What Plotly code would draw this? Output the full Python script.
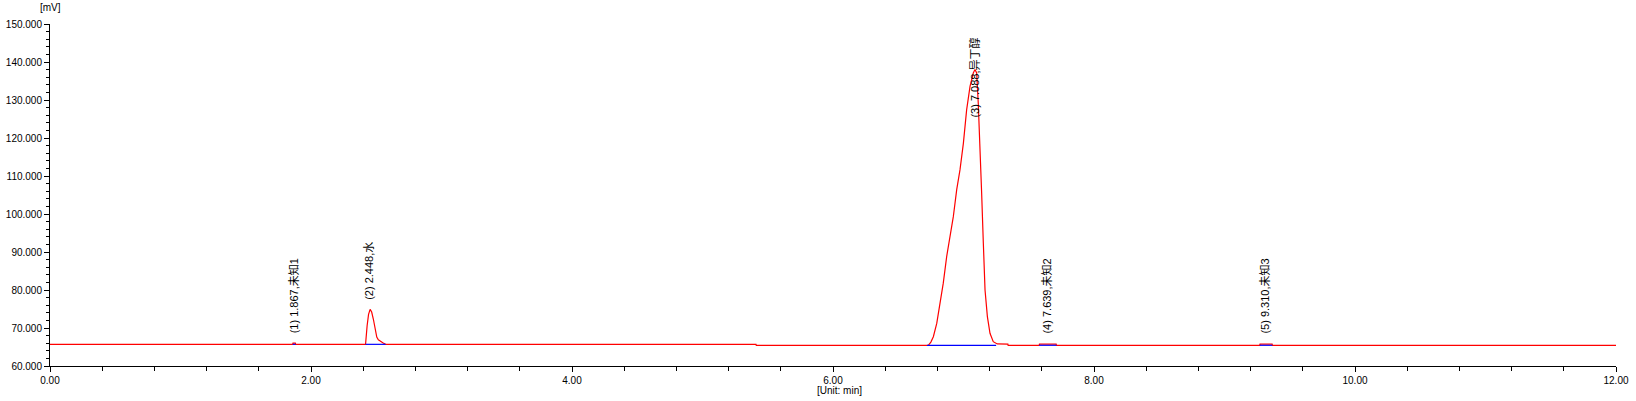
import plotly.graph_objects as go

# ---- data ----
time_min = [0.00, 1.860, 1.862, 1.880, 1.882,
            2.418, 2.430, 2.441, 2.453, 2.465, 2.478, 2.491, 2.504, 2.516, 2.529, 2.550, 2.572,
            5.410, 5.412,
            6.730, 6.750, 6.769, 6.795, 6.820, 6.845, 6.871, 6.897, 6.922, 6.948, 6.973, 6.999,
            7.024, 7.050, 7.075, 7.088, 7.101, 7.113, 7.126, 7.139, 7.152, 7.165, 7.183, 7.203,
            7.228, 7.259, 7.340, 7.342,
            7.580, 7.582, 7.710, 7.712,
            9.270, 9.272, 9.365, 9.367,
            12.00]
signal_mv = [65.7, 65.7, 66.0, 66.0, 65.7,
             65.7, 70.6, 73.6, 74.9, 74.2, 72.3, 69.5, 67.6, 66.9, 66.5, 66.1, 65.7,
             65.7, 65.45,
             65.45, 66.3, 67.7, 71.2, 76.5, 81.8, 88.8, 94.1, 99.3, 106.4, 111.6, 118.6,
             127.4, 133.6, 137.1, 138.0, 137.1, 129.2, 118.6, 105.5, 92.3, 80.0, 73.0, 68.6,
             66.4, 65.8, 65.75, 65.45,
             65.45, 65.75, 65.75, 65.45,
             65.45, 65.75, 65.75, 65.45,
             65.45]

peak_labels = ["(1) 1.867,未知1", "(2) 2.448,水", "(3) 7.088,异丁醇",
               "(4) 7.639,未知2", "(5) 9.310,未知3"]
peak_times = [1.867, 2.448, 7.088, 7.639, 9.310]
peak_heights = [66.0, 74.9, 138.0, 65.75, 65.75]
baseline_start = [1.860, 2.418, 6.720, 7.580, 9.270]
baseline_end = [1.882, 2.572, 7.250, 7.712, 9.367]
baseline_level = [65.7, 65.7, 65.45, 65.45, 65.45]

x_ticks = [0, 2, 4, 6, 8, 10, 12]
y_ticks = [60, 70, 80, 90, 100, 110, 120, 130, 140, 150]

# ---- figure ----
FONT = "Liberation Sans, Arial, Noto Sans CJK SC, sans-serif"

fig = go.Figure()
fig.add_trace(go.Scatter(x=time_min, y=signal_mv, mode="lines",
                         line=dict(color="#FF0000", width=1.2),
                         hoverinfo="skip", showlegend=False))

bx, by = [], []
for s, e, lv in zip(baseline_start, baseline_end, baseline_level):
    bx += [s, e, None]
    by += [lv, lv, None]
fig.add_trace(go.Scatter(x=bx, y=by, mode="lines",
                         line=dict(color="#0000FF", width=1.2),
                         hoverinfo="skip", showlegend=False))

label_shift = [8, 8, -50, 9, 9]
for txt, t, h, sh in zip(peak_labels, peak_times, peak_heights, label_shift):
    fig.add_annotation(x=t, y=h, xref="x", yref="y", text=txt, textangle=-90,
                       showarrow=False, xanchor="center", yanchor="bottom",
                       yshift=sh, font=dict(family=FONT, size=11, color="#000000"))

fig.add_annotation(x=0, y=1.049, xref="paper", yref="paper", text="[mV]",
                   showarrow=False, xanchor="center", yanchor="middle",
                   font=dict(family=FONT, size=10, color="#000000"))
fig.add_annotation(x=0.504, y=-0.072, xref="paper", yref="paper", text="[Unit: min]",
                   showarrow=False, xanchor="center", yanchor="middle",
                   font=dict(family=FONT, size=10, color="#000000"))

fig.update_layout(
    width=1636, height=401,
    margin=dict(l=50, r=20, t=24, b=35, autoexpand=False),
    paper_bgcolor="white", plot_bgcolor="white",
    font=dict(family=FONT, size=10, color="#000000"),
    showlegend=False,
    xaxis=dict(range=[0, 12], tickvals=x_ticks, ticktext=[f"{v:.2f}" for v in x_ticks],
               automargin=False,
               showgrid=False, zeroline=False, showline=True, linecolor="black", linewidth=1,
               ticks="outside", ticklen=5, tickcolor="black", tickwidth=1,
               minor=dict(dtick=0.4, ticks="outside", ticklen=4, tickcolor="black", showgrid=False),
               tickfont=dict(family=FONT, size=10, color="#000000")),
    yaxis=dict(range=[60, 150], tickvals=y_ticks, ticktext=[f"{v:.3f}" for v in y_ticks],
               automargin=False,
               showgrid=False, zeroline=False, showline=True, linecolor="black", linewidth=1,
               ticks="outside", ticklen=5, tickcolor="black", tickwidth=1,
               minor=dict(dtick=2, ticks="outside", ticklen=3, tickcolor="black", showgrid=False),
               tickfont=dict(family=FONT, size=10, color="#000000")),
)

fig.write_html("out.html", config={"displayModeBar": False},
               post_script="document.body.style.margin='0';document.body.style.overflow='hidden';")
